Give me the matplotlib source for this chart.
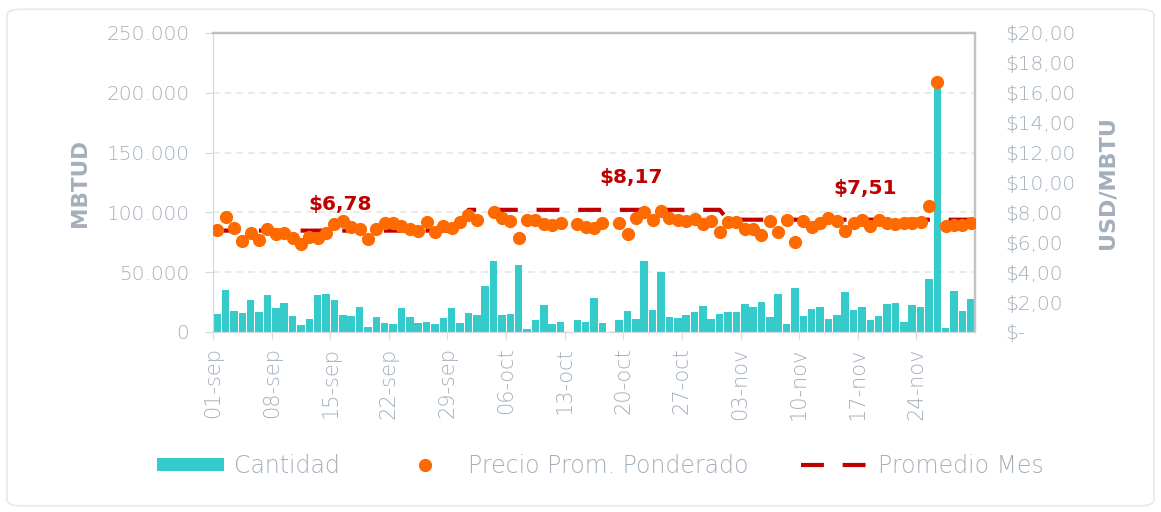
import numpy as np
import matplotlib
matplotlib.use('Agg')
import matplotlib.pyplot as plt
from matplotlib.patches import FancyBboxPatch, Patch
from matplotlib.lines import Line2D
from matplotlib.ticker import FuncFormatter

nan = np.nan

# Daily volume (MBTUD), 01-sep .. 30-nov
cantidad = [15000, 35100, 17700, 15700, 26400, 17100, 31200, 20000, 24400, 13500,
            5600, 11000, 31200, 32000, 27000, 14300, 13500, 20500, 4200, 12400,
            7300, 6700, 20000, 12600, 7600, 8400, 6500, 11800, 20200, 7900,
            15700, 14300, 38800, 59000, 13800, 14900, 55600, 2800, 10100, 22200,
            6700, 8400, nan, 10100, 8400, 28100, 7900, nan, 10100, 17400,
            11200, 59300, 18000, 50000, 12600, 12100, 14000, 17100, 21600, 11000,
            14900,
            16300, 17100, 23600, 20800, 25300, 12600, 31800, 6500, 36800, 13200,
            19400, 20800, 11200, 14000, 33200, 18500, 20500, 10100, 13500, 23600,
            24200, 8700, 22200, 21100, 44400, 207000, 3400, 34600, 17400, 27500]

# Weighted average price (USD/MBTU)
precio = [6.82, 7.66, 6.96, 6.10, 6.64, 6.15, 6.87, 6.55, 6.60, 6.31,
          5.88, 6.37, 6.31, 6.60, 7.23, 7.39, 7.00, 6.89, 6.22, 6.89,
          7.32, 7.27, 7.12, 6.87, 6.78, 7.34, 6.71, 7.09, 6.98, 7.36,
          7.84, 7.52, nan, 8.00, 7.61, 7.45, 6.31, 7.50, 7.50, 7.23,
          7.16, 7.27, nan, 7.23, 7.05, 6.94, 7.27, nan, 7.27, 6.53,
          7.61, 8.02, 7.50, 8.06, 7.61, 7.50, 7.45, 7.55, 7.21, 7.39,
          6.71,
          7.34, 7.34, 6.87, 6.87, 6.49, 7.39, 6.71, 7.50, 5.99, 7.39,
          7.05, 7.32, 7.61, 7.39, 6.76, 7.27, 7.50, 7.09, 7.50, 7.27,
          7.21, 7.27, 7.27, 7.34, 8.40, 16.74, 7.09, 7.16, 7.16, 7.32]

meses = ['sep', 'oct', 'nov']
dias_mes = [30, 31, 30]
promedio_mes = [6.78, 8.17, 7.51]
etiquetas_promedio = ['$6,78', '$8,17', '$7,51']

fechas = []
for m, n in zip(meses, dias_mes):
    for d in range(1, n + 1):
        fechas.append('%02d-%s' % (d, m))

promedio = []
for v, n in zip(promedio_mes, dias_mes):
    promedio += [v] * n

grey = '#A3AFBB'
cyan = '#36CBCB'
orange = '#FF6A00'
darkred = '#C00000'
font = 'DejaVu Sans'
fw = 'light'

fig = plt.figure(figsize=(11.61, 5.12), dpi=100)
fig.patch.set_facecolor('white')
card = FancyBboxPatch((0.006, 0.012), 0.988, 0.97, boxstyle='round,pad=0,rounding_size=0.012',
                      transform=fig.transFigure, facecolor='white', edgecolor='#E8E8E8', lw=1.2,
                      zorder=-10)
fig.patches.append(card)

ax = fig.add_axes([0.1835, 0.3516, 0.6563, 0.584])
ax2 = ax.twinx()

x = np.arange(len(cantidad)) + 0.5
ax.bar(x, cantidad, width=0.9, color=cyan, zorder=2)
ax.set_xlim(0, len(cantidad))
ax.set_ylim(0, 250000)
ax.set_yticks(np.arange(0, 250001, 50000))
ax.yaxis.set_major_formatter(FuncFormatter(lambda v, p: f'{int(v):,}'.replace(',', '.')))
ax.grid(axis='y', color='#E3E7EB', linestyle=(0, (4, 3)), lw=1.2, zorder=0)
ax.set_axisbelow(True)

ticks = list(range(0, len(cantidad), 7))
ax.set_xticks(ticks)
ax.set_xticklabels([fechas[i] for i in ticks], rotation=90, va='top', ha='center')

ax.tick_params(axis='x', colors='#D5DADF', labelcolor=grey, labelsize=15, length=5, pad=6)
ax.tick_params(axis='y', colors='#D5DADF', labelcolor=grey, labelsize=14.5, length=6, pad=11)
for lab in ax.get_xticklabels() + ax.get_yticklabels():
    lab.set_family(font)
    lab.set_weight(fw)

ax2.plot(x, promedio, color=darkred, lw=3, linestyle=(0, (5.5, 4.5)), zorder=2)
ax2.plot(x, precio, 'o', color=orange, markersize=8.5, zorder=3)
ax2.set_ylim(0, 20)
ax2.set_yticks(np.arange(0, 20.1, 2))
ax2.yaxis.set_major_formatter(FuncFormatter(
    lambda v, p: '$-' if v == 0 else '$' + f'{v:.2f}'.replace('.', ',')))
ax2.tick_params(axis='y', colors='#D5DADF', labelcolor=grey, labelsize=14.5, length=0, pad=22)
for lab in ax2.get_yticklabels():
    lab.set_family(font)
    lab.set_weight(fw)

# monthly average labels
lab_x = [15.2, 49.9, 77.9]
lab_y = [8.56, 10.3, 9.63]
for tx, ty, t in zip(lab_x, lab_y, etiquetas_promedio):
    ax2.text(tx, ty, t, color=darkred, fontsize=14.5, fontweight='bold', family=font,
             ha='center', va='center')

for a in (ax, ax2):
    a.spines['left'].set_color('#D5DADF')
    a.spines['bottom'].set_color('#D5DADF')
    a.spines['top'].set_color('#BFBFBF')
    a.spines['right'].set_color('#C4C4C4')
    a.spines['top'].set_linewidth(1.6)
    a.spines['right'].set_linewidth(1.6)

fig.text(0.069, 0.643, 'MBTUD', rotation=90, color=grey, fontsize=15.5, fontweight='bold',
         family=font, ha='center', va='center')
fig.text(0.954, 0.643, 'USD/MBTU', rotation=90, color=grey, fontsize=16, fontweight='bold',
         family=font, ha='center', va='center')

handles = [Patch(facecolor=cyan, edgecolor='none'),
           Line2D([], [], marker='o', color=orange, linestyle='none', markersize=8.5),
           Line2D([], [], color=darkred, lw=3, linestyle=(0, (5.5, 4.5)))]
leg = fig.legend(handles, ['Cantidad', 'Precio Prom. Ponderado', 'Promedio Mes'],
                 loc='center', bbox_to_anchor=(0.517, 0.09), ncol=3, frameon=False,
                 handlelength=2.85, handleheight=0.5, columnspacing=2.2, handletextpad=0.4,
                 prop={'family': font, 'size': 17, 'weight': fw})
for t in leg.get_texts():
    t.set_color(grey)

fig.savefig('out.png', dpi=100)
